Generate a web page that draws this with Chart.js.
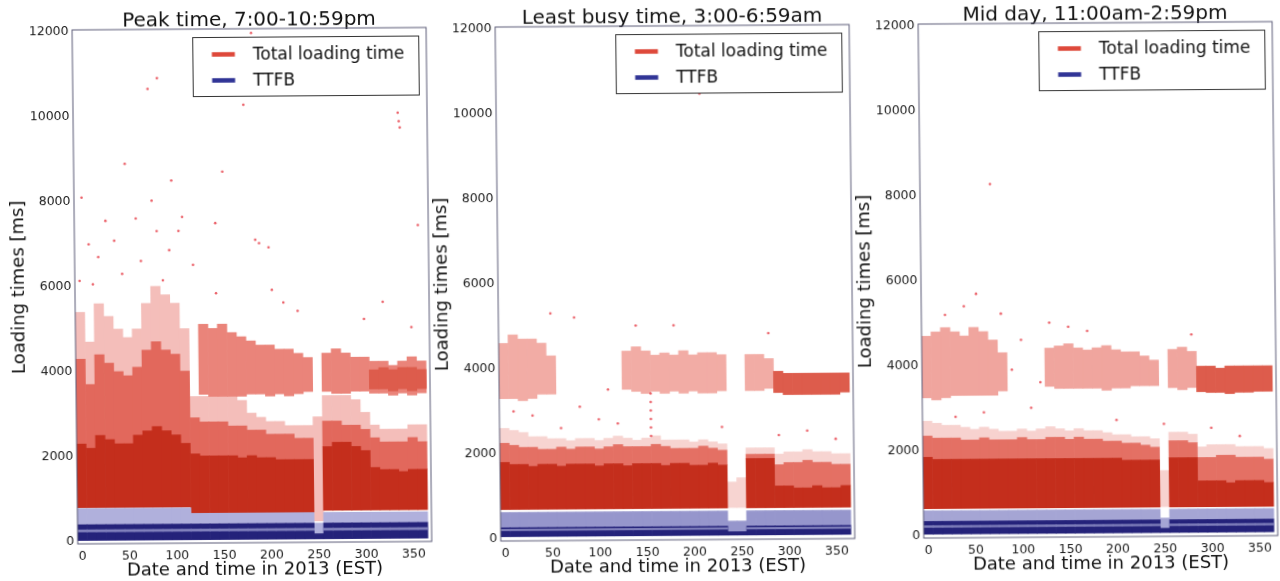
<!DOCTYPE html>
<html>
<head>
<meta charset="utf-8">
<title>Loading times in 2013</title>
<script src="https://cdn.jsdelivr.net/npm/chart.js@4.4.0/dist/chart.umd.min.js"></script>
<style>
  html, body { margin: 0; padding: 0; background: #fff; }
  #wrap { position: relative; width: 1280px; height: 581px; overflow: hidden; }
  /* the scanned figure is slightly tilted */
  #sheet { position: absolute; left: 0; top: 0; width: 1280px; height: 581px;
           transform-origin: 640px 290px; transform: matrix(1, -0.007, 0.011, 1, 0, 0); }
  .panel { position: absolute; top: 0; width: 438px; height: 581px; }
</style>
</head>
<body>
<div id="wrap"><div id="sheet">
  <div class="panel" style="left:0px"><canvas id="chart1" width="438" height="581"></canvas></div>
  <div class="panel" style="left:423px"><canvas id="chart2" width="438" height="581"></canvas></div>
  <div class="panel" style="left:846px"><canvas id="chart3" width="438" height="581"></canvas></div>
</div></div>
<script>
const _ = null;

// 10-day buckets (day of year)
const days = [0, 10, 20, 30, 40, 50, 60, 70, 80, 90,
              100, 110, 120, 130, 140, 150, 160, 170, 180, 190,
              200, 210, 220, 230, 240, 250, 260, 270, 280, 290,
              300, 310, 320, 330, 340, 350, 360];
const xTicks = [0, 50, 100, 150, 200, 250, 300, 350];
const yTicks = [0, 2000, 4000, 6000, 8000, 10000, 12000];
const titles = ['Peak time, 7:00-10:59pm', 'Least busy time, 3:00-6:59am', 'Mid day, 11:00am-2:59pm'];
const legendLabels = ['Total loading time', 'TTFB'];
const xTitle = 'Date and time in 2013 (EST)';
const yTitle = 'Loading times [ms]';

// ---- Peak time ----
const p1CoreLo = [800, 800, 800, 800, 800, 800, 800, 800, 800, 800,
                  800, 800, 650, 650, 650, 650, 650, 650, 650, 650,
                  650, 650, 650, 650, 650, _, 700, 700, 700, 700,
                  700, 700, 700, 700, 700, 700, 700];
const p1CoreHi = [2300, 2200, 2500, 2400, 2300, 2300, 2500, 2600, 2700, 2600,
                  2500, 2300, 2050, 2000, 2000, 2000, 2000, 1950, 2000, 1950,
                  1950, 1900, 1900, 1900, 1900, 450, 2200, 2300, 2300, 2200,
                  2100, 1700, 1650, 1650, 1600, 1650, 1650];
const p1MidHi = [4300, 3700, 4400, 4200, 4000, 3900, 4100, 4500, 4700, 4500,
                 4400, 4000, 2900, 2800, 2800, 2800, 2700, 2700, 2600, 2600,
                 2500, 2500, 2500, 2400, 2400, _, 2800, 2800, 2700, 2700,
                 2600, 2400, 2300, 2300, 2300, 2400, 2300];
const p1HazeHi = [5400, 4700, 5600, 5300, 5000, 4800, 5000, 5600, 6000, 5800,
                  5600, 5000, 3400, 3400, 3400, 3400, 3400, 3300, 3000, 2900,
                  2800, 2800, 2700, 2700, 2700, 2900, 3400, 3400, 3400, 3300,
                  3000, 2700, 2600, 2600, 2600, 2700, 2700];
const p1UpLo = [_, _, _, _, _, _, _, _, _, _,
                _, _, _, 3450, 3400, 3400, 3400, 3400, 3450, 3450,
                3400, 3450, 3400, 3450, 3500, _, 3500, 3450, 3450, 3500,
                3500, 3450, 3450, 3400, 3450, 3400, 3450];
const p1UpHi = [_, _, _, _, _, _, _, _, _, _,
                _, _, _, 5100, 5000, 5100, 4900, 4800, 4700, 4600,
                4600, 4500, 4500, 4400, 4300, _, 4400, 4500, 4400, 4300,
                4300, 4200, 4200, 4100, 4200, 4300, 4200];
const p1DenseLo = [_, _, _, _, _, _, _, _, _, _,
                   _, _, _, _, _, _, _, _, _, _,
                   _, _, _, _, _, _, _, _, _, _,
                   _, 3550, 3550, 3500, 3550, 3500, 3550];
const p1DenseHi = [_, _, _, _, _, _, _, _, _, _,
                   _, _, _, _, _, _, _, _, _, _,
                   _, _, _, _, _, _, _, _, _, _,
                   _, 4000, 4050, 4000, 4050, 4050, 4000];
const p1BlueLo = 30;
const p1BlueHi = [400, 400, 400, 400, 400, 400, 400, 400, 400, 400,
                  400, 400, 400, 400, 400, 400, 400, 400, 400, 400,
                  400, 400, 400, 400, 400, 150, 400, 400, 400, 400,
                  400, 400, 400, 400, 400, 400, 400];
const p1BlueTop = [780, 780, 780, 780, 780, 780, 780, 780, 780, 780,
                   780, 780, 650, 650, 650, 650, 650, 650, 650, 650,
                   650, 650, 650, 650, 650, 400, 650, 650, 650, 650,
                   650, 650, 650, 650, 650, 650, 650];
const p1Streak = [230, 280];
const p1OutX = [74, 84, 338, 339, 340, 49, 98, 152, 175, 184, 156, 3, 77, 37, 10, 186, 144, 95, 28, 109,
                0, 14, 88, 144, 203, 358, 120, 65, 105, 190, 200, 215, 230, 300, 320, 350, 45, 20, 60, 82];
const p1OutY = [10650, 10900, 10050, 9850, 9700, 8890, 8490, 8690, 10260, 11950, 11700, 8100, 8020, 7080, 7000, 7080, 7480, 6850, 7550, 7630,
                6140, 6060, 6140, 5830, 5900, 7400, 6500, 6600, 7300, 7000, 6900, 5600, 5400, 5200, 5600, 5000, 6300, 6700, 7600, 7300];

// ---- Least busy time ----
const p2CoreLo = [690, 690, 690, 690, 690, 690, 690, 690, 690, 690,
                  690, 690, 690, 690, 690, 690, 690, 690, 690, 690,
                  690, 690, 690, 690, _, _, 690, 690, 690, 690,
                  690, 690, 690, 690, 690, 690, 690];
const p2CoreHi = [1800, 1750, 1750, 1700, 1750, 1750, 1700, 1750, 1750, 1750,
                  1700, 1750, 1750, 1700, 1750, 1750, 1750, 1700, 1750, 1750,
                  1700, 1700, 1750, 1700, 700, 700, 1850, 1850, 1850, 1200,
                  1200, 1150, 1150, 1200, 1150, 1150, 1200];
const p2MidHi = [2250, 2200, 2150, 2150, 2100, 2100, 2150, 2100, 2150, 2150,
                 2100, 2150, 2200, 2150, 2150, 2150, 2200, 2150, 2100, 2100,
                 2100, 2150, 2100, 2050, _, _, 1950, 1950, 1950, 1700,
                 1750, 1750, 1800, 1750, 1750, 1700, 1700];
const p2HazeHi = [2600, 2550, 2500, 2400, 2400, 2350, 2350, 2300, 2350, 2350,
                  2300, 2350, 2400, 2350, 2300, 2350, 2400, 2300, 2300, 2300,
                  2250, 2300, 2250, 2200, 1300, 1400, 2100, 2100, 2100, 1950,
                  2000, 2000, 2050, 2000, 2000, 1950, 1950];
const p2UpLo = [3300, 3300, 3250, 3300, 3400, 3400, _, _, _, _,
                _, _, _, 3500, 3450, 3400, 3450, 3400, 3450, 3400,
                3450, 3400, 3400, 3450, _, _, 3450, 3450, 3500, _,
                _, _, _, _, _, _, _];
const p2UpHi = [4600, 4800, 4700, 4700, 4600, 4300, _, _, _, _,
                _, _, _, 4400, 4500, 4400, 4300, 4350, 4300, 4400,
                4300, 4350, 4350, 4300, _, _, 4300, 4300, 4200, _,
                _, _, _, _, _, _, _];
const p2DenseLo = [_, _, _, _, _, _, _, _, _, _,
                   _, _, _, _, _, _, _, _, _, _,
                   _, _, _, _, _, _, _, _, _, 3400,
                   3350, 3350, 3350, 3350, 3350, 3350, 3400];
const p2DenseHi = [_, _, _, _, _, _, _, _, _, _,
                   _, _, _, _, _, _, _, _, _, _,
                   _, _, _, _, _, _, _, _, _, 3900,
                   3850, 3850, 3850, 3850, 3850, 3850, 3850];
const p2BlueLo = 50;
const p2BlueHi = [260, 260, 260, 260, 260, 260, 260, 260, 260, 260,
                  260, 260, 260, 260, 260, 260, 260, 260, 260, 260,
                  260, 260, 260, 260, 130, 130, 260, 260, 260, 260,
                  260, 260, 260, 260, 260, 260, 260];
const p2BlueTop = [620, 620, 620, 620, 620, 620, 620, 620, 620, 620,
                   620, 620, 620, 620, 620, 620, 620, 620, 620, 620,
                   620, 620, 620, 620, 380, 380, 620, 620, 620, 620,
                   620, 620, 620, 620, 620, 620, 620];
const p2Streak = [190, 225];
const p2OutX = [210, 210, 75, 155, 155, 155, 155, 155, 155, 100, 120, 60,
                30, 10, 80, 320, 350, 290, 180, 50, 280, 110, 140, 230];
const p2OutY = [11200, 10450, 5200, 2400, 2600, 2800, 3000, 3200, 3400, 2800, 2700, 2600,
                2900, 3000, 3100, 2500, 2300, 2400, 5000, 5300, 4800, 3500, 5000, 2600];

// ---- Mid day ----
const p3CoreLo = [640, 640, 640, 640, 640, 640, 640, 640, 640, 640,
                  640, 640, 640, 640, 640, 640, 640, 640, 640, 640,
                  640, 640, 640, 640, 640, _, 640, 640, 640, 640,
                  640, 640, 640, 640, 640, 640, 640];
const p3CoreHi = [1850, 1800, 1800, 1800, 1800, 1800, 1800, 1800, 1800, 1800,
                  1800, 1800, 1800, 1800, 1800, 1800, 1800, 1800, 1800, 1800,
                  1800, 1750, 1750, 1750, 1750, 650, 1800, 1800, 1800, 1250,
                  1250, 1250, 1200, 1250, 1250, 1250, 1200];
const p3MidHi = [2350, 2300, 2300, 2300, 2250, 2250, 2300, 2250, 2250, 2250,
                 2300, 2250, 2250, 2300, 2300, 2250, 2300, 2250, 2250, 2200,
                 2200, 2150, 2150, 2100, 2050, _, 2200, 2200, 2150, 1800,
                 1800, 1850, 1850, 1800, 1800, 1800, 1750];
const p3HazeHi = [2700, 2650, 2600, 2600, 2550, 2500, 2550, 2500, 2450, 2450,
                  2500, 2450, 2500, 2550, 2500, 2450, 2500, 2450, 2450, 2400,
                  2350, 2350, 2300, 2300, 2250, 1500, 2400, 2400, 2350, 2050,
                  2100, 2100, 2100, 2050, 2050, 2050, 2000];
const p3UpLo = [3250, 3200, 3250, 3300, 3300, 3300, 3300, 3300, 3400, _,
                _, _, _, 3500, 3450, 3450, 3450, 3450, 3450, 3400,
                3450, 3450, 3500, 3500, 3500, _, 3450, 3400, 3450, _,
                _, _, _, _, _, _, _];
const p3UpHi = [4700, 4800, 4900, 4800, 4700, 4900, 4800, 4600, 4300, _,
                _, _, _, 4400, 4450, 4500, 4400, 4350, 4400, 4450,
                4350, 4300, 4300, 4200, 4100, _, 4350, 4400, 4300, _,
                _, _, _, _, _, _, _];
const p3DenseLo = [_, _, _, _, _, _, _, _, _, _,
                   _, _, _, _, _, _, _, _, _, _,
                   _, _, _, _, _, _, _, _, _, 3350,
                   3330, 3330, 3300, 3330, 3330, 3350, 3350];
const p3DenseHi = [_, _, _, _, _, _, _, _, _, _,
                   _, _, _, _, _, _, _, _, _, _,
                   _, _, _, _, _, _, _, _, _, 3950,
                   3950, 3900, 3950, 3950, 3950, 3950, 3950];
const p3BlueLo = 40;
const p3BlueHi = [340, 340, 340, 340, 340, 340, 340, 340, 340, 340,
                  340, 340, 340, 340, 340, 340, 340, 340, 340, 340,
                  340, 340, 340, 340, 340, 140, 340, 340, 340, 340,
                  340, 340, 340, 340, 340, 340, 340];
const p3BlueTop = [590, 590, 590, 590, 590, 590, 590, 590, 590, 590,
                   590, 590, 590, 590, 590, 590, 590, 590, 590, 590,
                   590, 590, 590, 590, 590, 380, 590, 590, 590, 590,
                   590, 590, 590, 590, 590, 590, 590];
const p3Streak = [200, 240];
const p3OutX = [53, 79, 69, 40, 20, 130, 150, 100, 110, 60, 30, 200, 300, 330, 250, 170, 280, 90, 120];
const p3OutY = [5690, 5220, 8270, 5400, 5200, 5000, 4900, 4600, 3000, 2900, 2800, 2700, 2500, 2300, 2600, 4800, 4700, 3900, 3600];

const colors = {
  core: 'rgb(196,46,28)',
  dense: 'rgb(221,92,76)',
  blue: 'rgb(36,34,122)',
  streak: 'rgb(128,128,188)',
  outlier: 'rgba(232,70,80,0.85)',
  legendRed: 'rgb(222,72,58)',
  legendBlue: 'rgb(48,52,150)',
  frame: '#5d5d78'
};

Chart.defaults.font.family = '"DejaVu Sans", sans-serif';

const framePlugin = {
  id: 'frame',
  afterDatasetsDraw(chart) {
    const a = chart.chartArea, ctx = chart.ctx;
    ctx.save();
    ctx.strokeStyle = colors.frame;
    ctx.lineWidth = 1;
    ctx.strokeRect(a.left, a.top, a.right - a.left, a.bottom - a.top);
    ctx.restore();
  }
};

// legend box drawn inside the plot, upper right, like the original
const insideLegend = {
  id: 'insideLegend',
  afterDraw(chart, args, opts) {
    const a = chart.chartArea, ctx = chart.ctx;
    const w = 226, h = 59;
    const x = a.right - 7.5 - w, y = a.top + 8.5;
    ctx.save();
    ctx.fillStyle = '#fff';
    ctx.fillRect(x, y, w, h);
    ctx.strokeStyle = '#333';
    ctx.lineWidth = 1;
    ctx.strokeRect(x, y, w, h);
    ctx.font = '17px "DejaVu Sans"';
    ctx.textBaseline = 'middle';
    opts.items.forEach((it, i) => {
      const cy = y + 17 + i * 26;
      ctx.strokeStyle = it.color;
      ctx.lineWidth = 4.5;
      ctx.beginPath();
      ctx.moveTo(x + 19, cy);
      ctx.lineTo(x + 42, cy);
      ctx.stroke();
      ctx.fillStyle = '#111';
      ctx.fillText(it.text, x + 60, cy + 1);
    });
    ctx.restore();
  }
};

function bar(lo, hi, color) {
  const data = [];
  days.forEach((d, i) => {
    if (lo[i] != null && hi[i] != null) data.push({ x: d, y: [lo[i], hi[i]] });
  });
  return {
    type: 'bar', data: data, backgroundColor: color, borderWidth: 0,
    grouped: false, barPercentage: 1, categoryPercentage: 1
  };
}

function makeChart(p) {
  const hazeLo = p.midHi.map((v, i) => v != null ? v : p.coreHi[i]);
  const streakLo = p.blueHi.map(v => v > p.streak[1] ? p.streak[0] : null);
  const streakHi = p.blueHi.map(v => v > p.streak[1] ? p.streak[1] : null);
  const blueLo = days.map(() => p.blueLo);

  new Chart(document.getElementById(p.id), {
    type: 'bar',
    data: {
      datasets: [
        {
          type: 'scatter',
          data: p.outX.map((x, i) => ({ x: x, y: p.outY[i] })),
          pointRadius: 1.3, borderWidth: 0, backgroundColor: colors.outlier
        },
        bar(streakLo, streakHi, colors.streak),
        bar(blueLo, p.blueHi, colors.blue),
        bar(p.blueHi, p.blueTop, p.speckleColor),
        bar(p.coreLo, p.coreHi, colors.core),
        bar(p.coreHi, p.midHi, p.midColor),
        bar(p.denseLo, p.denseHi, colors.dense),
        bar(p.upLo, p.upHi, p.upColor),
        bar(hazeLo, p.hazeHi, p.hazeColor)
      ]
    },
    options: {
      responsive: false,
      animation: false,
      layout: { padding: { left: 0, right: 9, top: 0, bottom: 0 } },
      plugins: {
        legend: { display: false },
        tooltip: { enabled: false },
        title: {
          display: true, fullSize: false, text: p.title, color: '#111',
          font: { size: 20, weight: 'normal', lineHeight: 0.8 },
          padding: { top: 10, bottom: 0 }
        },
        insideLegend: {
          items: [
            { text: legendLabels[0], color: colors.legendRed },
            { text: legendLabels[1], color: colors.legendBlue }
          ]
        }
      },
      scales: {
        x: {
          type: 'linear', min: -5, max: 369, offset: false,
          grid: { display: false, drawTicks: false, offset: false },
          border: { display: false },
          afterBuildTicks: s => { s.ticks = xTicks.map(v => ({ value: v })); },
          afterFit: s => { s.height = 41; },
          ticks: { autoSkip: false, maxRotation: 0, padding: 5, color: '#1a1a1a', font: { size: 12.5 } },
          title: { display: true, text: xTitle, color: '#111', font: { size: 18 }, padding: { top: 0, bottom: 3 } }
        },
        y: {
          type: 'linear', min: -50, max: 12050,
          grid: { display: false, drawTicks: false },
          border: { display: false },
          afterBuildTicks: s => { s.ticks = yTicks.map(v => ({ value: v })); },
          afterFit: s => { s.width = 75; },
          ticks: { autoSkip: false, padding: 3.5, color: '#1a1a1a', font: { size: 12.5 }, callback: v => String(v) },
          title: { display: true, text: yTitle, color: '#111', font: { size: 18 }, padding: { top: 9, bottom: 0 } }
        }
      }
    },
    plugins: [framePlugin, insideLegend]
  });
}

makeChart({
  id: 'chart1', title: titles[0],
  coreLo: p1CoreLo, coreHi: p1CoreHi, midHi: p1MidHi, hazeHi: p1HazeHi,
  upLo: p1UpLo, upHi: p1UpHi, denseLo: p1DenseLo, denseHi: p1DenseHi,
  blueLo: p1BlueLo, blueHi: p1BlueHi, blueTop: p1BlueTop, streak: p1Streak,
  outX: p1OutX, outY: p1OutY,
  midColor: 'rgb(226,104,92)', upColor: 'rgb(234,132,122)', hazeColor: 'rgb(244,190,186)',
  speckleColor: 'rgb(176,176,220)'
});
makeChart({
  id: 'chart2', title: titles[1],
  coreLo: p2CoreLo, coreHi: p2CoreHi, midHi: p2MidHi, hazeHi: p2HazeHi,
  upLo: p2UpLo, upHi: p2UpHi, denseLo: p2DenseLo, denseHi: p2DenseHi,
  blueLo: p2BlueLo, blueHi: p2BlueHi, blueTop: p2BlueTop, streak: p2Streak,
  outX: p2OutX, outY: p2OutY,
  midColor: 'rgb(228,112,100)', upColor: 'rgb(242,172,165)', hazeColor: 'rgb(247,212,209)',
  speckleColor: 'rgb(150,150,204)'
});
makeChart({
  id: 'chart3', title: titles[2],
  coreLo: p3CoreLo, coreHi: p3CoreHi, midHi: p3MidHi, hazeHi: p3HazeHi,
  upLo: p3UpLo, upHi: p3UpHi, denseLo: p3DenseLo, denseHi: p3DenseHi,
  blueLo: p3BlueLo, blueHi: p3BlueHi, blueTop: p3BlueTop, streak: p3Streak,
  outX: p3OutX, outY: p3OutY,
  midColor: 'rgb(228,112,100)', upColor: 'rgb(240,165,158)', hazeColor: 'rgb(247,210,207)',
  speckleColor: 'rgb(165,165,212)'
});
</script>
</body>
</html>
